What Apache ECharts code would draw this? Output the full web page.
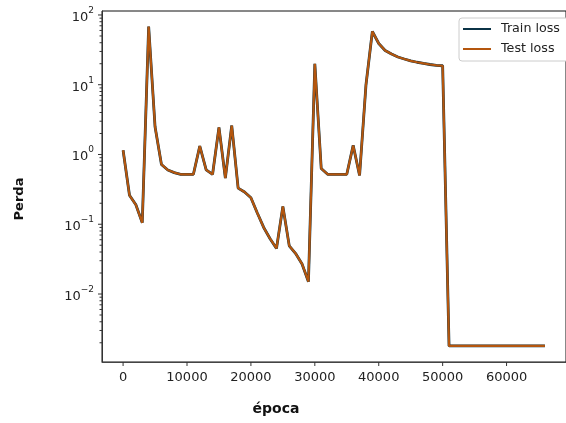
<!DOCTYPE html>
<html>
<head>
<meta charset="utf-8">
<script src="https://cdn.jsdelivr.net/npm/echarts@6/dist/echarts.min.js"></script>
<style>
  html, body { margin: 0; padding: 0; background: #fff; }
  #chart { width: 566px; height: 423px; }
</style>
</head>
<body>
<div id="chart"></div>
<script>
// epochs (one point every 1000)
const epochs = [
  0, 1000, 2000, 3000, 4000, 5000, 6000, 7000, 8000, 9000,
  10000, 11000, 12000, 13000, 14000, 15000, 16000, 17000, 18000, 19000,
  20000, 21000, 22000, 23000, 24000, 25000, 26000, 27000, 28000, 29000,
  30000, 31000, 32000, 33000, 34000, 35000, 36000, 37000, 38000, 39000,
  40000, 41000, 42000, 43000, 44000, 45000, 46000, 47000, 48000, 49000,
  50000, 51000, 52000, 53000, 54000, 55000, 56000, 57000, 58000, 59000,
  60000, 61000, 62000, 63000, 64000, 65000, 66000
]
const trainLoss = [
  1.15, 0.26, 0.19, 0.105, 68, 2.5, 0.72, 0.6, 0.55, 0.52,
  0.52, 0.52, 1.32, 0.6, 0.52, 2.45, 0.46, 2.6, 0.33, 0.29,
  0.24, 0.145, 0.09, 0.062, 0.045, 0.18, 0.049, 0.038, 0.027, 0.015,
  20, 0.63, 0.52, 0.52, 0.52, 0.52, 1.35, 0.5, 9.9, 58,
  39, 31, 27.5, 25, 23.4, 22, 21, 20.2, 19.5, 19,
  18.7, 0.0018, 0.0018, 0.0018, 0.0018, 0.0018, 0.0018, 0.0018, 0.0018, 0.0018,
  0.0018, 0.0018, 0.0018, 0.0018, 0.0018, 0.0018, 0.0018
]
// test curve sits exactly on top of the train curve in the picture
const testLoss = trainLoss.slice()

const xTicks = [0, 10000, 20000, 30000, 40000, 50000, 60000]
const yMajorTicks = [0.01, 0.1, 1, 10, 100]
let yMinorTicks = []
for (let e = -3; e <= 1; e++) {
  for (let m = 2; m <= 9; m++) {
    yMinorTicks.push(Number((m * Math.pow(10, e)).toPrecision(3)))
  }
}

const xMin = -3300, xMax = 69300
const yMin = 0.00106, yMax = 114
const FONT = 'DejaVu Sans'
const TRAIN_COLOR = '#0b3346'
const TEST_COLOR = '#b4560e'
// thin line icon for the legend (extra moveTo points keep the 28x14 box)
const LINE_ICON = 'path://M0,0 M0,6 L28,6 L28,8 L0,8 Z M28,14'

let myChart = echarts.init(document.getElementById('chart'))

function pair (xs, ys) {
  return xs.map(function (x, i) { return [x, ys[i]] })
}

function yTickItem (params, api) {
  let p = api.coord([api.value(0), api.value(1)])
  let len = api.value(2)
  return {
    type: 'line',
    shape: { x1: p[0] - len, y1: p[1], x2: p[0], y2: p[1] },
    style: { stroke: '#333', lineWidth: 1 }
  }
}

function xTickItem (params, api) {
  let p = api.coord([api.value(0), api.value(1)])
  return {
    type: 'line',
    shape: { x1: p[0], y1: p[1], x2: p[0], y2: p[1] + 4 },
    style: { stroke: '#333', lineWidth: 1 }
  }
}

let option = {
  backgroundColor: '#fff',
  animation: false,
  textStyle: { fontFamily: FONT },
  grid: {
    left: 102,
    top: 11,
    width: 474,
    height: 351,
    show: true,
    borderColor: '#111',
    borderWidth: 1,
    backgroundColor: 'transparent'
  },
  legend: {
    data: [
      { name: 'Train loss', icon: LINE_ICON, itemStyle: { color: TRAIN_COLOR } },
      { name: 'Test loss', icon: LINE_ICON, itemStyle: { color: TEST_COLOR } }
    ],
    orient: 'vertical',
    left: 459,
    top: 18,
    itemWidth: 28,
    itemHeight: 14,
    itemGap: 6,
    padding: [4, 12, 5, 4],
    backgroundColor: '#fff',
    borderColor: '#ccc',
    borderWidth: 1,
    borderRadius: 3,
    textStyle: { fontFamily: FONT, fontSize: 12.7, color: '#222', padding: [0, 0, 0, 5] }
  },
  xAxis: {
    type: 'value',
    min: xMin,
    max: xMax,
    minInterval: 10000,
    maxInterval: 10000,
    splitLine: { show: false },
    axisTick: { show: false },
    axisLine: { onZero: false, lineStyle: { color: '#444', width: 1 } },
    axisLabel: {
      margin: 9,
      fontFamily: FONT,
      fontSize: 13,
      color: '#222',
      showMinLabel: false,
      showMaxLabel: false,
      formatter: function (v) { return v % 10000 === 0 ? String(v) : '' }
    }
  },
  yAxis: {
    type: 'log',
    logBase: 10,
    min: yMin,
    max: yMax,
    splitLine: { show: false },
    axisTick: { show: false },
    axisLine: { show: true, onZero: false, lineStyle: { color: '#333', width: 1 } },
    axisLabel: {
      margin: 8,
      fontFamily: FONT,
      color: '#222',
      showMinLabel: false,
      showMaxLabel: false,
      formatter: function (v) {
        let e = Math.log10(v)
        let r = Math.round(e)
        if (Math.abs(e - r) > 1e-6) return ''
        let s = r < 0 ? '\u2212' + Math.abs(r) : String(r)
        return '{b|10}{s|' + s + '}'
      },
      rich: {
        b: { fontFamily: FONT, fontSize: 13, lineHeight: 13, padding: [5, 0, 0, 0], color: '#222' },
        s: { fontFamily: FONT, fontSize: 9, lineHeight: 9, padding: [0, 0, 9, 0], color: '#222' }
      }
    }
  },
  graphic: [
    {
      type: 'text',
      x: 20,
      y: 199,
      rotation: Math.PI / 2,
      style: {
        text: 'Perda',
        fontFamily: FONT,
        fontSize: 13,
        fontWeight: 'bold',
        fill: '#111',
        align: 'center',
        verticalAlign: 'middle'
      }
    },
    {
      type: 'text',
      x: 276,
      y: 409,
      style: {
        text: 'época',
        fontFamily: FONT,
        fontSize: 14,
        fontWeight: 'bold',
        fill: '#111',
        align: 'center',
        verticalAlign: 'middle'
      }
    }
  ],
  series: [
    {
      name: 'Train loss',
      type: 'line',
      data: pair(epochs, trainLoss),
      symbol: 'none',
      color: TRAIN_COLOR,
      lineStyle: { width: 2.8, color: TRAIN_COLOR },
      z: 3
    },
    {
      name: 'Test loss',
      type: 'line',
      data: pair(epochs, testLoss),
      symbol: 'none',
      color: TEST_COLOR,
      lineStyle: { width: 2.2, color: TEST_COLOR },
      z: 4
    },
    {
      type: 'custom',
      clip: false,
      silent: true,
      renderItem: yTickItem,
      data: yMajorTicks.map(function (v) { return [xMin, v, 4] })
        .concat(yMinorTicks.map(function (v) { return [xMin, v, 2.5] })),
      z: 5
    },
    {
      type: 'custom',
      clip: false,
      silent: true,
      renderItem: xTickItem,
      data: xTicks.map(function (v) { return [v, yMin] }),
      z: 5
    }
  ]
}

myChart.setOption(option)
</script>
</body>
</html>
